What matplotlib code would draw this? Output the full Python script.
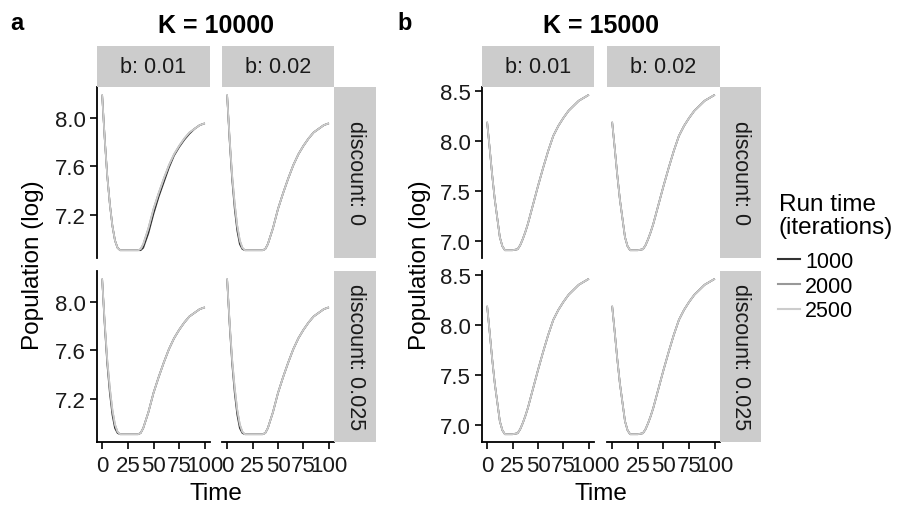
import numpy as np
import matplotlib
matplotlib.use("Agg")
import matplotlib.pyplot as plt
import matplotlib.lines as mlines

plt.rcParams['font.family'] = ['Liberation Sans', 'DejaVu Sans']

# DATA
time = [0, 2.5, 5, 7.5, 10, 12.5, 15, 17.5, 20, 25, 30, 32.5, 35, 37.5,
        40, 45, 50, 55, 60, 65, 70, 75, 80, 85, 90, 95, 100]

# K = 10000, runs 2000 and 2500
pop_k10 = [8.19, 7.83, 7.52, 7.29, 7.11, 6.99, 6.93, 6.91, 6.91, 6.91, 6.91, 6.91, 6.91, 6.92,
           6.96, 7.09, 7.25, 7.38, 7.50, 7.61, 7.70, 7.77, 7.83, 7.88, 7.91, 7.94, 7.955]
# K = 10000, run 1000, b = 0.01 / discount = 0 (rises a bit later)
pop_k10_r1000_late = [8.19, 7.83, 7.52, 7.29, 7.11, 6.99, 6.93, 6.91, 6.91, 6.91, 6.91, 6.91, 6.91, 6.91,
                      6.93, 7.05, 7.21, 7.35, 7.47, 7.59, 7.69, 7.76, 7.82, 7.87, 7.91, 7.94, 7.955]
# K = 10000, run 1000, other panels (drops a bit faster)
pop_k10_r1000 = [8.19, 7.81, 7.49, 7.25, 7.07, 6.96, 6.92, 6.91, 6.91, 6.91, 6.91, 6.91, 6.91, 6.92,
                 6.96, 7.09, 7.25, 7.38, 7.50, 7.61, 7.70, 7.77, 7.83, 7.88, 7.91, 7.94, 7.955]
# K = 15000, all runs
pop_k15 = [8.19, 7.93, 7.66, 7.42, 7.23, 7.04, 6.95, 6.91, 6.91, 6.91, 6.92, 6.96, 7.02, 7.09,
           7.17, 7.36, 7.55, 7.73, 7.90, 8.05, 8.15, 8.23, 8.30, 8.35, 8.40, 8.43, 8.46]

b_labels = ["b: 0.01", "b: 0.02"]
discount_labels = ["discount: 0", "discount: 0.025"]
runs = ["1000", "2000", "2500"]
run_colors = {"1000": "#333333", "2000": "#989898", "2500": "#CCCCCC"}

x_ticks = [0, 25, 50, 75, 100]
y_ticks = {"10000": [7.2, 7.6, 8.0], "15000": [7.0, 7.5, 8.0, 8.5]}


def series_for(k, row, col):
    # which values each run takes in one facet
    if k == "10000":
        first = pop_k10_r1000_late if (row == 0 and col == 0) else pop_k10_r1000
        return {"1000": first, "2000": pop_k10, "2500": pop_k10}
    return {"1000": pop_k15, "2000": pop_k15, "2500": pop_k15}


# LAYOUT (pixels)
W, H = 899, 506
STRIP_FILL = "#CCCCCC"
TXT = "#1A1A1A"


def rect(x0, y0, x1, y1):
    return [x0 / W, 1 - y1 / H, (x1 - x0) / W, (y1 - y0) / H]


PANELS = {
    "10000": dict(cols=[(97, 210), (222, 334)], rstrip=(334, 376), ylab_x=33, letter="a", letter_x=10),
    "15000": dict(cols=[(482, 594), (607, 720)], rstrip=(720, 761), ylab_x=420, letter="b", letter_x=397),
}
ROWS = [(88, 259), (272, 443)]
TOP_STRIP = (47, 88)

fig = plt.figure(figsize=(W / 100, H / 100), dpi=100)

for k, spec in PANELS.items():
    first_ax = None
    for r, (y0, y1) in enumerate(ROWS):
        for c, (x0, x1) in enumerate(spec["cols"]):
            ax = fig.add_axes(rect(x0, y0, x1, y1), sharex=first_ax, sharey=first_ax)
            if first_ax is None:
                first_ax = ax
            data = series_for(k, r, c)
            for run in runs:
                ax.plot(time, data[run], color=run_colors[run], lw=1.2, solid_capstyle='butt')

            for s in ["top", "right"]:
                ax.spines[s].set_visible(False)
            ax.spines["left"].set_visible(c == 0)
            ax.spines["bottom"].set_visible(r == 1)
            for s in ["left", "bottom"]:
                ax.spines[s].set_linewidth(1.3)
            ax.set_xticks(x_ticks)
            ax.set_yticks(y_ticks[k])
            ax.yaxis.set_major_formatter(matplotlib.ticker.FormatStrFormatter('%.1f'))
            ax.tick_params(direction='out', length=5, width=1.2, labelsize=16,
                           labelcolor=TXT, pad=3)
            ax.tick_params(axis='x', bottom=(r == 1), labelbottom=(r == 1), pad=4)
            ax.tick_params(axis='y', left=(c == 0), labelleft=(c == 0))

            # top strips
            if r == 0:
                sax = fig.add_axes(rect(x0, TOP_STRIP[0], x1, TOP_STRIP[1]))
                sax.set_facecolor(STRIP_FILL)
                sax.set_xticks([]); sax.set_yticks([])
                for sp in sax.spines.values():
                    sp.set_visible(False)
                sax.text(0.5, 0.5, b_labels[c], ha='center', va='center',
                         fontsize=15.5, color=TXT, transform=sax.transAxes)
        # right strips
        rx0, rx1 = spec["rstrip"]
        sax = fig.add_axes(rect(rx0, y0, rx1, y1))
        sax.set_facecolor(STRIP_FILL)
        sax.set_xticks([]); sax.set_yticks([])
        for sp in sax.spines.values():
            sp.set_visible(False)
        sax.text(0.5, 0.5, discount_labels[r], ha='center', va='center', rotation=-90,
                 fontsize=15.5, color=TXT, transform=sax.transAxes)

    # titles and axis labels
    cx = (spec["cols"][0][0] + spec["cols"][1][1]) / 2
    fig.text(cx / W, 1 - 33 / H, "K = " + k, ha='center', va='baseline',
             fontsize=18, fontweight='bold')
    fig.text(spec["letter_x"] / W, 1 - 30 / H, spec["letter"], ha='left', va='baseline',
             fontsize=17, fontweight='bold')
    fig.text(cx / W, 1 - 500 / H, "Time", ha='center', va='baseline', fontsize=17.5)
    fig.text(spec["ylab_x"] / W, 1 - ((ROWS[0][0] + ROWS[1][1]) / 2) / H, "Population (log)",
             ha='center', va='center', rotation=90, fontsize=17.5)

# legend: title as its own text so the gap below it matches
fig.text(779 / W, 1 - 194 / H, "Run time\n(iterations)", ha='left', va='top',
         fontsize=17.5, linespacing=1.05)
handles = [mlines.Line2D([], [], color=run_colors[r], lw=1.5) for r in runs]
fig.legend(handles, runs, loc='upper left',
           bbox_to_anchor=(778 / W, 1 - 252 / H), frameon=False,
           fontsize=15.5, handlelength=1.0, handletextpad=0.25,
           labelspacing=0.17, borderpad=0, borderaxespad=0)

fig.savefig("out.png", dpi=100)
